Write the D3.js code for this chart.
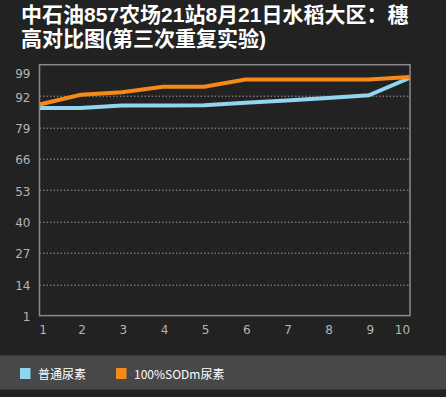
<!DOCTYPE html>
<html>
<head>
<meta charset="utf-8">
<script src="https://cdn.jsdelivr.net/npm/d3@7"></script>
<style>
  html, body { margin: 0; padding: 0; background: #222222; }
  #chart { width: 446px; height: 397px; }
</style>
</head>
<body>
<div id="chart"></div>
<script>
//Datos
const TITLE_LINES = ['中石油857农场21站8月21日水稻大区：穗', '高对比图(第三次重复实验)'];
const CATEGORIES = [1, 2, 3, 4, 5, 6, 7, 8, 9, 10];
const SERIES_NAMES = ['普通尿素', '100%SODm尿素'];
const VALUES_NORMAL = [87.1, 87.1, 88.1, 88.1, 88.2, 89.2, 90.2, 91.2, 92.3, 99.6];
const VALUES_SODM = [88.5, 92.5, 93.6, 95.9, 95.9, 98.9, 98.9, 98.9, 98.9, 99.9];
const Y_TICKS = [1, 14, 27, 40, 53, 66, 79, 92];
const Y_MAX_LABEL = 99;

//Colores
const COLOR_BG = '#222222',
COLOR_LEGEND_BG = '#484848',
COLOR_BLUE = '#92D5EE',
COLOR_ORANGE = '#F5891A',
COLOR_AXIS = '#8a8a8a',
COLOR_TEXT = '#b4b4b4';

let margin = {top: 64.7, right: 36, bottom: 81.4, left: 39.5},
    width = 446 - margin.left - margin.right,
    height = 397 - margin.top - margin.bottom;

let root = d3.select('#chart')
    .append('svg')
        .attr('width', 446)
        .attr('height', 397);

root.append('rect')
    .attr('width', 446).attr('height', 397)
    .attr('fill', COLOR_BG);

//Titulo (cifras en Liberation, caracteres chinos en Noto CJK)
TITLE_LINES.forEach(function(t, i) {
    root.append('text')
        .attr('x', 21)
        .attr('y', 21.5 + i * 24.5)
        .attr('fill', '#ffffff')
        .style('font-family', '"Liberation Sans", "Noto Sans CJK SC", sans-serif')
        .style('font-weight', 'bold')
        .style('font-size', '21px')
        .text(t);
});

let svg = root.append('g')
    .attr('transform', 'translate(' + margin.left + ',' + margin.top + ')');

let x = d3.scaleLinear()
    .domain([1, 10])
    .range([0, width]);

let y = d3.scaleLinear()
    .domain([1, 105])
    .range([height, 0]);

//Rejilla
svg.append('g')
    .selectAll('line')
    .data(Y_TICKS.filter(function(d) { return d > 1; }))
    .enter()
    .append('line')
        .attr('x1', 0)
        .attr('x2', width)
        .attr('y1', function(d) { return Math.round(y(d)) + 0.5; })
        .attr('y2', function(d) { return Math.round(y(d)) + 0.5; })
        .attr('stroke', '#9a9a9a')
        .attr('stroke-width', 1)
        .attr('stroke-dasharray', '1.5,2');

//Ejes
let axisLabels = svg.append('g')
    .style('font-family', '"DejaVu Sans", sans-serif')
    .style('font-size', '12px')
    .attr('fill', COLOR_TEXT);

axisLabels.selectAll('.ylab')
    .data(Y_TICKS)
    .enter()
    .append('text')
        .attr('class', 'ylab')
        .attr('x', -9)
        .attr('y', function(d) { return y(d) + 5.5; })
        .attr('text-anchor', 'end')
        .text(function(d) { return d; });

//Etiqueta del maximo, fijada arriba del eje
axisLabels.append('text')
    .attr('x', -9)
    .attr('y', y.range()[1] + 13)
    .attr('text-anchor', 'end')
    .text(Y_MAX_LABEL);

axisLabels.selectAll('.xlab')
    .data(CATEGORIES)
    .enter()
    .append('text')
        .attr('class', 'xlab')
        .attr('x', function(d, i) {
            if (i == 0) return x(d) + 3.5;
            if (i == CATEGORIES.length - 1) return x(d) - 7.5;
            return x(d) + 1.5;
        })
        .attr('y', height + 18.5)
        .attr('text-anchor', 'middle')
        .text(function(d) { return d; });

//Lineas
let line = d3.line()
    .x(function(d, i) { return x(CATEGORIES[i]); })
    .y(function(d) { return y(d); });

svg.append('path')
    .datum(VALUES_NORMAL)
    .attr('d', line)
    .attr('fill', 'none')
    .attr('stroke', COLOR_BLUE)
    .attr('stroke-width', 4);

svg.append('path')
    .datum(VALUES_SODM)
    .attr('d', line)
    .attr('fill', 'none')
    .attr('stroke', COLOR_ORANGE)
    .attr('stroke-width', 4);

//Marco
svg.append('rect')
    .attr('x', 0)
    .attr('y', 0)
    .attr('width', width)
    .attr('height', height)
    .attr('fill', 'none')
    .attr('stroke', COLOR_AXIS)
    .attr('stroke-width', 1.5);

//Leyenda
let legend = root.append('g');
legend.append('rect')
    .attr('x', 0).attr('y', 355.5)
    .attr('width', 446).attr('height', 34)
    .attr('fill', COLOR_LEGEND_BG);

let legendX = [20, 116];
let z = d3.scaleOrdinal()
    .domain(SERIES_NAMES)
    .range([COLOR_BLUE, COLOR_ORANGE]);

SERIES_NAMES.forEach(function(name, i) {
    legend.append('rect')
        .attr('x', legendX[i])
        .attr('y', 368)
        .attr('width', 10.5)
        .attr('height', 11)
        .attr('fill', z(name));
    legend.append('text')
        .attr('x', legendX[i] + 18)
        .attr('y', 378.5)
        .attr('fill', '#ffffff')
        .style('font-family', '"Noto Sans CJK SC", sans-serif')
        .style('font-size', '12px')
        .text(name);
});
</script>
</body>
</html>
